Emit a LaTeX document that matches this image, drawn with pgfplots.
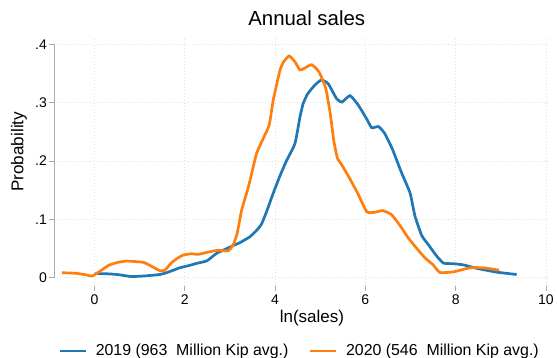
\documentclass[border=0pt]{standalone}
\usepackage{pgfplots}
\pgfplotsset{compat=1.18}
\usepackage{fontspec}
\setmainfont{Liberation Sans}
\definecolor{sblue}{HTML}{1F77B4}
\definecolor{sorange}{HTML}{FF7F0E}
\definecolor{axgray}{RGB}{170,170,170}
\definecolor{grdgray}{RGB}{225,225,225}
\pgfplotstableread{
x y
0.01 0.007
0.25 0.0068
0.50 0.0055
0.82 0.002
1.10 0.003
1.45 0.0055
1.65 0.010
1.89 0.017
2.10 0.021
2.26 0.0245
2.49 0.029
2.71 0.042
2.93 0.050
3.10 0.056
3.22 0.060
3.44 0.070
3.60 0.082
3.70 0.092
3.81 0.113
3.96 0.145
4.11 0.175
4.25 0.200
4.44 0.230
4.55 0.275
4.62 0.298
4.72 0.315
4.88 0.330
5.03 0.339
5.18 0.332
5.36 0.307
5.48 0.301
5.66 0.312
5.84 0.296
6.03 0.272
6.14 0.257
6.29 0.259
6.43 0.247
6.60 0.220
6.80 0.180
6.99 0.145
7.10 0.105
7.25 0.072
7.40 0.056
7.58 0.037
7.73 0.025
7.95 0.024
8.17 0.022
8.47 0.016
8.91 0.0095
9.35 0.0055
}\blueA
\pgfplotstableread{
x y
-0.72 0.0085
-0.40 0.0075
-0.20 0.005
-0.05 0.003
0.10 0.010
0.31 0.021
0.50 0.026
0.70 0.0285
0.93 0.0275
1.10 0.026
1.30 0.018
1.45 0.012
1.56 0.013
1.71 0.026
1.85 0.034
1.97 0.039
2.15 0.041
2.30 0.040
2.52 0.044
2.74 0.047
2.96 0.046
3.07 0.056
3.16 0.076
3.26 0.116
3.41 0.156
3.59 0.213
3.74 0.239
3.87 0.262
3.96 0.305
4.04 0.333
4.11 0.356
4.18 0.369
4.31 0.380
4.44 0.370
4.55 0.356
4.65 0.359
4.81 0.365
4.97 0.353
5.12 0.325
5.22 0.282
5.30 0.235
5.38 0.205
5.48 0.193
5.66 0.169
5.84 0.143
6.03 0.113
6.20 0.112
6.38 0.115
6.58 0.108
6.77 0.089
6.95 0.068
7.14 0.050
7.32 0.034
7.50 0.022
7.65 0.009
7.95 0.010
8.32 0.017
8.61 0.017
8.96 0.013
}\orangeA
\begin{document}
\begin{tikzpicture}
\begin{axis}[
  at={(0pt,0pt)}, anchor=south west,
  scale only axis, width=496pt, height=249pt,
  xmin=-0.897, xmax=10.089, ymin=-0.01422, ymax=0.4125,
  xtick={0,2,4,6,8,10}, ytick={0,0.1,0.2,0.3,0.4},
  yticklabels={0,.1,.2,.3,.4},
  /pgf/number format/assume math mode=true,
  tick pos=left, tick align=outside, major tick length=5pt,
  tick style={axgray, line width=0.9pt},
  axis line style={draw=none},
  grid=major, major grid style={grdgray, line width=0.8pt, dash pattern=on 0.8pt off 2.4pt},
  ticklabel style={font=\fontsize{14}{16}\selectfont},
  xticklabel style={anchor=north, inner sep=0pt, yshift=-4pt},
  yticklabel style={anchor=east, inner sep=0pt, xshift=-2pt},
  title={Annual sales},
  title style={font=\fontsize{20.4}{24}\selectfont, at={(axis description cs:0.5095,1.0201)}, anchor=base, inner sep=0pt},
  xlabel={ln(sales)},
  xlabel style={font=\fontsize{17}{20}\selectfont, at={(axis description cs:0.52,-0.1446)}, anchor=base, inner sep=0pt},
  ylabel={Probability},
  ylabel style={font=\fontsize{17.1}{20}\selectfont, at={(axis description cs:-0.0706,0.539)}, anchor=center, inner sep=0pt},
  legend columns=2,
  legend style={draw=none, fill=none, font=\fontsize{15.9}{18}\selectfont, inner sep=0pt,
    at={(axis description cs:0.0081,-0.261)}, anchor=west,
    /tikz/every even column/.append style={column sep=20pt},
    nodes={inner sep=0pt, anchor=west}},
  legend image code/.code={\draw[#1, line width=2.6pt] (0pt,0pt) -- (26pt,0pt);},
  legend cell align=left,
]
\draw[axgray, line width=0.9pt] (axis cs:0,-0.01422) -- (axis cs:10,-0.01422);
\draw[axgray, line width=0.9pt] (axis cs:-0.897,0) -- (axis cs:-0.897,0.4);
\addplot[sblue, line width=2.7pt, smooth, tension=0.3] table[x=x,y=y] {\blueA};
\addlegendentry{\hspace{9pt}2019 (963\ \ Million Kip avg.)}
\addplot[sorange, line width=2.7pt, smooth, tension=0.3] table[x=x,y=y] {\orangeA};
\addlegendentry{\hspace{9pt}2020 (546\ \ Million Kip avg.)}
\end{axis}
\pgfresetboundingbox
\path (-54pt,-72pt) rectangle (503pt,286pt);
\end{tikzpicture}
\end{document}
